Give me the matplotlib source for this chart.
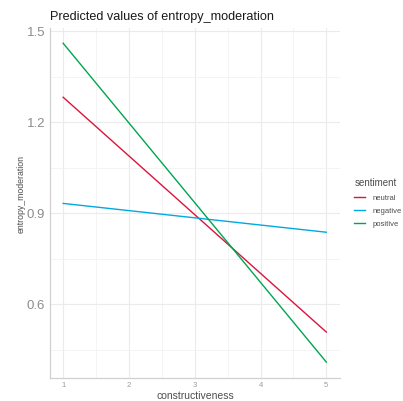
import matplotlib
matplotlib.use("Agg")
import matplotlib.pyplot as plt
import numpy as np

plt.rcParams['font.family'] = ['Liberation Sans', 'DejaVu Sans']

x_vals = [1, 5]
neutral = [1.282, 0.508]
negative = [0.932, 0.837]
positive = [1.460, 0.409]
series_names = ["neutral", "negative", "positive"]
colors = ["#DC143C", "#00A9E0", "#00A550"]

fig = plt.figure(figsize=(4.03, 4.01), dpi=100)
ax = fig.add_axes([0.124, 0.057, 0.72, 0.873])
for vals, name, c in zip([neutral, negative, positive], series_names, colors):
    ax.plot(x_vals, vals, color=c, lw=1.0, label=name)

ax.set_xlim(0.8, 5.21)
ax.set_ylim(0.356, 1.51)
ax.set_xticks([1, 2, 3, 4, 5])
ax.set_xticks([1.5, 2.5, 3.5, 4.5], minor=True)
ax.set_yticks([0.6, 0.9, 1.2, 1.5])
ax.set_yticks([0.45, 0.75, 1.05, 1.35], minor=True)
ax.grid(True, which="major", color="#EBEBEB", lw=0.8)
ax.grid(True, which="minor", color="#F2F2F2", lw=0.6)
ax.set_axisbelow(True)
for s in ["top", "right"]:
    ax.spines[s].set_visible(False)
for s in ["left", "bottom"]:
    ax.spines[s].set_color("#D0D0D0")
    ax.spines[s].set_linewidth(0.9)
ax.tick_params(axis="x", which="both", length=0, labelsize=5.5, colors="#9A9A9A", pad=3)
ax.tick_params(axis="y", which="both", length=0, labelsize=9.5, colors="#8C8C8C", pad=3.5)
ax.set_xlabel("constructiveness", fontsize=7.5, color="#4D4D4D", labelpad=1)
ax.set_ylabel("entropy_moderation", fontsize=6.3, color="#4D4D4D")
ax.yaxis.set_label_coords(-0.085, 0.526)
fig.text(50/403, 1 - 17/401, "Predicted values of entropy_moderation", fontsize=9.1, color="#1A1A1A", va="center", ha="left")
leg = ax.legend(title="sentiment", loc="upper left", bbox_to_anchor=(1.025, 0.59), frameon=False,
                fontsize=5.5, title_fontsize=7, handlelength=1.4, handletextpad=1.0, labelspacing=0.75)
leg._legend_box.align = "left"
for t in leg.get_texts():
    t.set_color("#4D4D4D")
leg.get_title().set_color("#4D4D4D")
fig.savefig("out.png", dpi=100)
